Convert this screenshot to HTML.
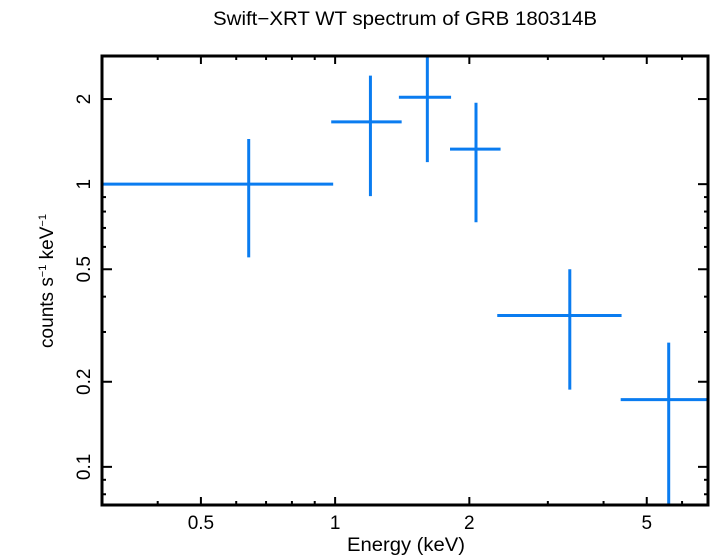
<!DOCTYPE html>
<html><head><meta charset="utf-8"><style>
body{margin:0;background:#fff;}
svg{display:block;font-family:"Liberation Sans",sans-serif;}
</style></head><body>
<svg id="chart" width="710" height="556" xmlns="http://www.w3.org/2000/svg">
<text x="213" y="25" font-size="19" textLength="384" lengthAdjust="spacingAndGlyphs">Swift−XRT WT spectrum of GRB 180314B</text>
<text x="347" y="551" font-size="19" textLength="118" lengthAdjust="spacingAndGlyphs">Energy (keV)</text>
<text transform="translate(53,281) rotate(-90)" font-size="19" text-anchor="middle">counts s<tspan font-size="11" dy="-7">−1</tspan><tspan dy="7"> keV</tspan><tspan font-size="11" dy="-7">−1</tspan></text>
<g id="ticks"></g>
<g id="marks"></g>
<rect x="102" y="56" width="606" height="449" fill="none" stroke="#000" stroke-width="3"/>
</svg>
<script>
const energyCenter=[0.64,1.2,1.61,2.07,3.36,5.6];
const energyLow=[0.3,0.98,1.39,1.81,2.31,4.37];
const energyHigh=[0.99,1.41,1.82,2.35,4.39,6.86];
const rate=[1.0,1.66,2.03,1.33,0.343,0.173];
const rateLow=[0.551,0.907,1.197,0.733,0.1875,0.05];
const rateHigh=[1.445,2.42,2.84,1.94,0.5,0.275];
const xMajor=[0.5,1,2,5];
const xMinor=[0.3,0.4,0.6,0.7,0.8,0.9,3,4,6];
const yMajor=[0.1,0.2,0.5,1,2];
const yMinor=[0.08,0.09,0.3,0.4,0.6,0.7,0.8,0.9];
const L=102,R=708,T=56,B=505;
const xMin=0.3,xMax=6.86,yMin=0.0733,yMax=2.84;
const lg=Math.log10;
const xs=v=>L+(lg(v)-lg(xMin))/(lg(xMax)-lg(xMin))*(R-L);
const ys=v=>B-(lg(v)-lg(yMin))/(lg(yMax)-lg(yMin))*(B-T);
const cx=v=>Math.min(R,Math.max(L,v)), cy=v=>Math.min(B,Math.max(T,v));
const NS="http://www.w3.org/2000/svg";
function line(g,x1,y1,x2,y2,c,w){const l=document.createElementNS(NS,'line');
l.setAttribute('x1',x1);l.setAttribute('y1',y1);l.setAttribute('x2',x2);l.setAttribute('y2',y2);
l.setAttribute('stroke',c);l.setAttribute('stroke-width',w);g.appendChild(l);return l;}
const tg=document.getElementById('ticks');
xMajor.concat(xMinor).forEach(v=>{const m=xMajor.includes(v);const len=m?8:4;const x=xs(v);
const a=line(tg,x,B,x,B-len,'#000',2);


const b=line(tg,x,T,x,T+len,'#000',2);


if(m){const t=document.createElementNS(NS,'text');t.setAttribute('x',x);t.setAttribute('y',529);
t.setAttribute('font-size','19');t.setAttribute('text-anchor','middle');t.textContent=String(v);


tg.appendChild(t);}});
yMajor.concat(yMinor).forEach(v=>{const m=yMajor.includes(v);const len=m?10:4;const y=ys(v);
const a=line(tg,L,y,L+len,y,'#000',2);


const b=line(tg,R,y,R-len,y,'#000',2);


if(m){const t=document.createElementNS(NS,'text');t.setAttribute('transform','translate(90,'+y+') rotate(-90)');
t.setAttribute('font-size','19');t.setAttribute('text-anchor','middle');t.textContent=String(v);


tg.appendChild(t);}});
const mg=document.getElementById('marks');
const col='#0a7cf0';
energyCenter.forEach((e,i)=>{
const h=line(mg,cx(xs(energyLow[i])),ys(rate[i]),cx(xs(energyHigh[i])),ys(rate[i]),col,3);


const v=line(mg,xs(e),cy(ys(rateHigh[i])),xs(e),cy(ys(rateLow[i])),col,3);


});
</script>
</body></html>
